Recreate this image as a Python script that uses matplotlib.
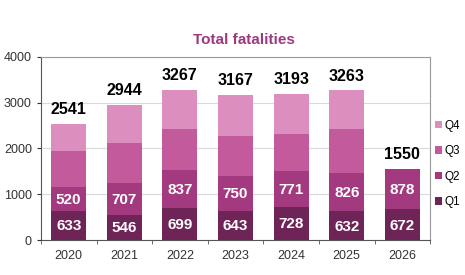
import numpy as np
import matplotlib.pyplot as plt

plt.rcParams['font.family'] = ['Liberation Sans', 'DejaVu Sans']

years = ['2020', '2021', '2022', '2023', '2024', '2025', '2026']
q1 = [633, 546, 699, 643, 728, 632, 672]
q2 = [520, 707, 837, 750, 771, 826, 878]
q3 = [788, 855, 892, 868, 820, 956, 0]
q4 = [600, 836, 839, 906, 874, 849, 0]
totals = [2541, 2944, 3267, 3167, 3193, 3263, 1550]

colors = ['#6e2457', '#a33a80', '#c25a9c', '#dc8fbf']
labels = ['Q1', 'Q2', 'Q3', 'Q4']

fig = plt.figure(figsize=(4.65, 2.75), dpi=100)
ax = fig.add_axes([0.088, 0.127, 0.837, 0.667])

x = np.arange(len(years))
w = 0.63
bottom = np.zeros(len(years))
handles = []
for vals, c, lab in zip([q1, q2, q3, q4], colors, labels):
    b = ax.bar(x, vals, w, bottom=bottom, color=c, label=lab, zorder=2)
    handles.append(b)
    bottom += np.array(vals)

# white value labels inside Q1 and Q2, totals on top
for i in range(len(years)):
    ax.text(x[i], q1[i] / 2 - 20, str(q1[i]), ha='center', va='center',
            color='white', fontsize=11, fontweight='bold', zorder=3)
    ax.text(x[i], q1[i] + q2[i] / 2 - 20, str(q2[i]), ha='center', va='center',
            color='white', fontsize=11, fontweight='bold', zorder=3)
    ax.text(x[i], totals[i] + 150, str(totals[i]), ha='center', va='bottom',
            color='black', fontsize=11.5, fontweight='bold', zorder=3)

ax.set_ylim(0, 4000)
ax.set_xlim(-0.5, len(years) - 0.5)
ax.set_yticks([0, 1000, 2000, 3000, 4000])
ax.yaxis.grid(True, color='#d9d9d9', lw=0.8, zorder=0)
ax.set_axisbelow(True)

ax.set_xticks(x)
ax.set_xticklabels(years)
ax.set_xticks(np.arange(-0.5, len(years), 1), minor=True)
ax.tick_params(axis='x', which='major', length=0, labelsize=9, pad=7, colors='#333333')
ax.tick_params(axis='x', which='minor', length=3, direction='out', color='#555555')
ax.tick_params(axis='y', length=3, direction='out', labelsize=9, colors='#333333')

ax.spines['left'].set_color('#555555')
ax.spines['bottom'].set_color('#555555')
ax.spines['top'].set_color('#999999')
ax.spines['right'].set_color('#999999')

fig.text(0.525, 0.855, 'Total fatalities', ha='center', va='center',
         color='#9b3a80', fontsize=11, fontweight='bold')

leg = fig.legend(handles[::-1], labels[::-1], loc='center left',
                 bbox_to_anchor=(0.935, 0.404), frameon=False, fontsize=8.5,
                 handlelength=0.6, handleheight=0.6, handletextpad=0.2,
                 labelspacing=1.15, borderpad=0, borderaxespad=0)

fig.savefig('out.png', dpi=100)
